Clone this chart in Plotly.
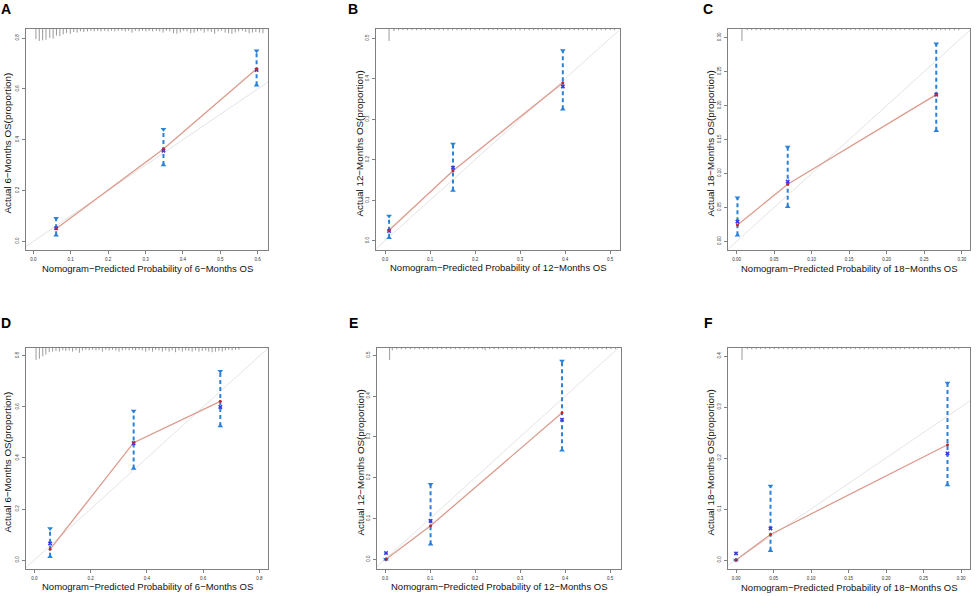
import plotly.graph_objects as go

W, H = 976, 596

letters = ["A", "B", "C", "D", "E", "F"]
months = ["6", "12", "18", "6", "12", "18"]

# nomogram-predicted probability per group
pred = [
    [0.061, 0.348, 0.597],
    [0.009, 0.151, 0.395],
    [0.001, 0.068, 0.266],
    [0.056, 0.353, 0.661],
    [0.002, 0.101, 0.393],
    [0.000, 0.046, 0.282],
]
# observed (Kaplan-Meier) proportion
obs = [
    [0.050, 0.364, 0.679],
    [0.026, 0.173, 0.390],
    [0.024, 0.084, 0.216],
    [0.042, 0.460, 0.622],
    [0.000, 0.082, 0.359],
    [0.000, 0.050, 0.226],
]
# bias-corrected estimate
corr = [
    [0.052, 0.357, 0.675],
    [0.024, 0.180, 0.381],
    [0.029, 0.088, 0.216],
    [0.065, 0.458, 0.600],
    [0.015, 0.094, 0.342],
    [0.013, 0.062, 0.209],
]
# 95% CI
ci_lo = [
    [0.024, 0.301, 0.615],
    [0.007, 0.124, 0.325],
    [0.009, 0.051, 0.163],
    [0.013, 0.359, 0.525],
    [0.000, 0.037, 0.267],
    [0.000, 0.018, 0.147],
]
ci_hi = [
    [0.091, 0.441, 0.750],
    [0.061, 0.239, 0.470],
    [0.064, 0.139, 0.291],
    [0.124, 0.584, 0.740],
    [0.000, 0.184, 0.486],
    [0.000, 0.145, 0.347],
]

# distribution of predicted values (spikes along the top), relative heights
spike_x = [
    [0.007, 0.016, 0.025, 0.034, 0.044, 0.053, 0.062, 0.071, 0.080, 0.089, 0.099, 0.108,
     0.117, 0.126, 0.135, 0.145, 0.154, 0.163, 0.172, 0.181, 0.191, 0.200, 0.209, 0.218,
     0.227, 0.237, 0.246, 0.255, 0.264, 0.273, 0.283, 0.292, 0.301, 0.310, 0.319, 0.329,
     0.338, 0.347, 0.356, 0.365, 0.375, 0.384, 0.393, 0.402, 0.411, 0.421, 0.430, 0.439,
     0.448, 0.457, 0.467, 0.476, 0.485, 0.494, 0.503, 0.513, 0.522, 0.531, 0.540, 0.549,
     0.559, 0.568, 0.577, 0.586, 0.595, 0.605, 0.614],
    [0.009, 0.020, 0.030, 0.040, 0.050, 0.060, 0.070, 0.080, 0.090, 0.100, 0.110, 0.120,
     0.130, 0.140, 0.150, 0.160, 0.170, 0.180, 0.190, 0.200, 0.210, 0.220, 0.230, 0.240,
     0.250, 0.260, 0.270, 0.280, 0.290, 0.300, 0.310, 0.320, 0.330, 0.340, 0.350, 0.360,
     0.370, 0.380, 0.390, 0.400, 0.410, 0.420, 0.430, 0.440, 0.450, 0.460, 0.470, 0.480,
     0.490, 0.500, 0.510],
    [0.007, 0.014, 0.020, 0.026, 0.032, 0.038, 0.044, 0.050, 0.056, 0.062, 0.068, 0.074,
     0.080, 0.086, 0.092, 0.098, 0.104, 0.110, 0.116, 0.122, 0.128, 0.134, 0.140, 0.146,
     0.152, 0.158, 0.164, 0.170, 0.176, 0.182, 0.188, 0.194, 0.200, 0.206, 0.212, 0.218,
     0.224, 0.230, 0.236, 0.242, 0.248, 0.254, 0.260, 0.266, 0.272, 0.278, 0.284, 0.290,
     0.296],
    [0.006, 0.018, 0.030, 0.041, 0.053, 0.065, 0.077, 0.089, 0.101, 0.112, 0.124, 0.136,
     0.148, 0.160, 0.171, 0.183, 0.195, 0.207, 0.219, 0.230, 0.242, 0.254, 0.266, 0.278,
     0.290, 0.301, 0.313, 0.325, 0.337, 0.349, 0.360, 0.372, 0.384, 0.396, 0.408, 0.420,
     0.431, 0.443, 0.455, 0.467, 0.479, 0.490, 0.502, 0.514, 0.526, 0.538, 0.549, 0.561,
     0.573, 0.585, 0.597, 0.609, 0.620, 0.632, 0.644, 0.656, 0.668, 0.679, 0.691, 0.703,
     0.715, 0.727],
    [0.010, 0.016, 0.026, 0.036, 0.046, 0.056, 0.066, 0.076, 0.086, 0.096, 0.106, 0.116,
     0.126, 0.136, 0.146, 0.156, 0.166, 0.176, 0.186, 0.196, 0.206, 0.216, 0.222, 0.232,
     0.242, 0.252, 0.262, 0.272, 0.282, 0.292, 0.302, 0.312, 0.322, 0.332, 0.342, 0.352,
     0.362, 0.372, 0.382, 0.392, 0.402, 0.412, 0.422, 0.432, 0.442, 0.452, 0.462, 0.472,
     0.482, 0.492, 0.502, 0.512],
    [0.008, 0.015, 0.021, 0.027, 0.033, 0.039, 0.045, 0.051, 0.057, 0.063, 0.069, 0.075,
     0.081, 0.087, 0.093, 0.099, 0.105, 0.111, 0.117, 0.123, 0.129, 0.135, 0.141, 0.147,
     0.153, 0.159, 0.165, 0.171, 0.177, 0.183, 0.189, 0.195, 0.201, 0.207, 0.213, 0.219,
     0.225, 0.231, 0.237, 0.243, 0.249, 0.255, 0.261, 0.267, 0.273, 0.279, 0.285, 0.291,
     0.297],
]
spike_h = [
    [0.85, 1.0, 0.95, 0.9, 0.75, 0.8, 0.55, 0.6, 0.45, 0.35, 0.4, 0.25, 0.3, 0.2, 0.25, 0.2,
     0.15, 0.2, 0.15, 0.2, 0.15, 0.2, 0.15, 0.2, 0.15, 0.15, 0.2, 0.15, 0.3, 0.15, 0.2, 0.15,
     0.2, 0.15, 0.2, 0.15, 0.2, 0.3, 0.15, 0.2, 0.35, 0.4, 0.3, 0.15, 0.2, 0.35, 0.3, 0.2,
     0.15, 0.3, 0.2, 0.25, 0.4, 0.2, 0.15, 0.3, 0.35, 0.4, 0.3, 0.2, 0.15, 0.25, 0.35, 0.3,
     0.25, 0.3, 0.35],
    [1.0, 0.18, 0.1, 0.1, 0.1, 0.1, 0.1, 0.1, 0.1, 0.1, 0.1, 0.1, 0.1, 0.1, 0.1, 0.1, 0.1,
     0.1, 0.1, 0.1, 0.1, 0.1, 0.1, 0.1, 0.1, 0.1, 0.1, 0.1, 0.1, 0.1, 0.1, 0.1, 0.1, 0.1,
     0.1, 0.1, 0.1, 0.1, 0.1, 0.1, 0.1, 0.1, 0.1, 0.1, 0.1, 0.1, 0.1, 0.1, 0.1, 0.1, 0.1],
    [1.0, 0.1, 0.1, 0.1, 0.1, 0.1, 0.1, 0.1, 0.1, 0.1, 0.1, 0.1, 0.1, 0.1, 0.1, 0.1, 0.1,
     0.1, 0.1, 0.1, 0.1, 0.1, 0.1, 0.1, 0.1, 0.1, 0.1, 0.1, 0.1, 0.1, 0.1, 0.1, 0.1, 0.1,
     0.1, 0.1, 0.1, 0.1, 0.1, 0.1, 0.1, 0.1, 0.1, 0.1, 0.1, 0.1, 0.1, 0.1, 0.1],
    [1.0, 0.9, 0.7, 0.55, 0.35, 0.3, 0.25, 0.3, 0.2, 0.25, 0.2, 0.3, 0.2, 0.4, 0.2, 0.15,
     0.2, 0.15, 0.2, 0.15, 0.3, 0.15, 0.2, 0.15, 0.2, 0.3, 0.2, 0.15, 0.2, 0.15, 0.2, 0.15,
     0.2, 0.3, 0.2, 0.3, 0.15, 0.2, 0.3, 0.2, 0.3, 0.2, 0.35, 0.2, 0.3, 0.2, 0.25, 0.3, 0.2,
     0.3, 0.25, 0.2, 0.3, 0.35, 0.3, 0.25, 0.3, 0.2, 0.15, 0.2, 0.15, 0.15],
    [1.0, 0.2, 0.1, 0.1, 0.1, 0.1, 0.1, 0.1, 0.1, 0.1, 0.1, 0.1, 0.1, 0.1, 0.1, 0.1, 0.1,
     0.1, 0.1, 0.1, 0.1, 0.1, 0.2, 0.1, 0.1, 0.1, 0.1, 0.1, 0.1, 0.1, 0.1, 0.1, 0.1, 0.1,
     0.1, 0.1, 0.1, 0.1, 0.1, 0.1, 0.1, 0.1, 0.1, 0.1, 0.1, 0.1, 0.1, 0.1, 0.1, 0.1, 0.1,
     0.1],
    [1.0, 0.1, 0.1, 0.1, 0.1, 0.1, 0.1, 0.1, 0.1, 0.1, 0.1, 0.1, 0.1, 0.1, 0.1, 0.1, 0.1,
     0.1, 0.1, 0.1, 0.1, 0.1, 0.1, 0.1, 0.1, 0.1, 0.1, 0.1, 0.1, 0.1, 0.1, 0.1, 0.1, 0.1,
     0.1, 0.1, 0.1, 0.1, 0.1, 0.1, 0.1, 0.1, 0.1, 0.1, 0.1, 0.1, 0.1, 0.1, 0.1],
]

# axis ranges and ticks
x_range = [[-0.0195, 0.6275], [-0.020, 0.522], [-0.0116, 0.311],
           [-0.0296, 0.8305], [-0.018, 0.524], [-0.0107, 0.312]]
y_range = [[-0.034, 0.836], [-0.023, 0.523], [-0.0128, 0.3127],
           [-0.035, 0.831], [-0.024, 0.518], [-0.0176, 0.4157]]
x_ticks = [[0, 0.1, 0.2, 0.3, 0.4, 0.5, 0.6], [0, 0.1, 0.2, 0.3, 0.4, 0.5],
           [0, 0.05, 0.1, 0.15, 0.2, 0.25, 0.3], [0, 0.2, 0.4, 0.6, 0.8],
           [0, 0.1, 0.2, 0.3, 0.4, 0.5], [0, 0.05, 0.1, 0.15, 0.2, 0.25, 0.3]]
y_ticks = [[0, 0.2, 0.4, 0.6, 0.8], [0, 0.1, 0.2, 0.3, 0.4, 0.5],
           [0, 0.05, 0.1, 0.15, 0.2, 0.25, 0.3], [0, 0.2, 0.4, 0.6, 0.8],
           [0, 0.1, 0.2, 0.3, 0.4, 0.5], [0, 0.1, 0.2, 0.3, 0.4]]
tick_fmt = [".1f", ".1f", ".2f", ".1f", ".1f", ".2f"]
ytick_fmt = [".1f", ".1f", ".2f", ".1f", ".1f", ".1f"]

# panel boxes in pixels: left, right, top, bottom
boxes = [(26, 268, 29, 250), (376, 620, 29, 250), (728, 970, 29, 250),
         (26, 268, 348, 569), (377, 621, 348, 569), (728, 970, 348, 569)]
# axis-title and panel-letter anchor points in pixels
xtitle_y = [269, 267, 269, 586, 586, 587]
ytitle_x = [7, 359, 710, 7, 360, 710]
letter_xy = [(6, 9), (353, 9), (708, 9), (6, 323), (353, 323), (708, 323)]

BLUE = "#2b80d8"
RED_LINE = "#dc9a8c"
FONT = "Liberation Sans, Arial, sans-serif"


def px(x):
    return x / W


def py(y):
    return 1 - y / H


fig = go.Figure()
annotations = []

for i in range(6):
    n = "" if i == 0 else str(i + 1)
    xa, ya = "x" + n, "y" + n
    l, r, t, b = boxes[i]
    x0, x1 = x_range[i]
    y0, y1 = y_range[i]

    # ideal line
    d0, d1 = min(x0, y0), max(x1, y1)
    fig.add_trace(go.Scatter(x=[d0, d1], y=[d0, d1], mode="lines",
                             line=dict(color="#e4e4e4", width=1),
                             xaxis=xa, yaxis=ya, showlegend=False, hoverinfo="skip"))

    # spikes at top
    L = 0.054 * (y1 - y0)
    sx, sy = [], []
    for xv, hv in zip(spike_x[i], spike_h[i]):
        sx += [xv, xv, None]
        sy += [y1, y1 - hv * L, None]
    fig.add_trace(go.Scatter(x=sx, y=sy, mode="lines",
                             line=dict(color="#9a9a9a", width=1),
                             xaxis=xa, yaxis=ya, showlegend=False, hoverinfo="skip"))

    # observed line
    fig.add_trace(go.Scatter(x=pred[i], y=obs[i], mode="lines",
                             line=dict(color=RED_LINE, width=1.3),
                             xaxis=xa, yaxis=ya, showlegend=False))

    # error bars
    ex, ey = [], []
    for p, lo, hi in zip(pred[i], ci_lo[i], ci_hi[i]):
        ex += [p, p, None]
        ey += [lo, hi, None]
    fig.add_trace(go.Scatter(x=ex, y=ey, mode="lines",
                             line=dict(color=BLUE, width=2, dash="4px,3px"),
                             xaxis=xa, yaxis=ya, showlegend=False, hoverinfo="skip"))
    fig.add_trace(go.Scatter(x=pred[i], y=ci_hi[i], mode="markers",
                             marker=dict(symbol="triangle-down", size=5, color=BLUE),
                             xaxis=xa, yaxis=ya, showlegend=False))
    fig.add_trace(go.Scatter(x=pred[i], y=ci_lo[i], mode="markers",
                             marker=dict(symbol="triangle-up", size=5, color=BLUE),
                             xaxis=xa, yaxis=ya, showlegend=False))

    # bias-corrected and observed points
    fig.add_trace(go.Scatter(x=pred[i], y=corr[i], mode="markers",
                             marker=dict(symbol="x", size=4, color="#3a3ae0"),
                             xaxis=xa, yaxis=ya, showlegend=False))
    fig.add_trace(go.Scatter(x=pred[i], y=obs[i], mode="markers",
                             marker=dict(symbol="circle", size=3, color="#c0262e"),
                             xaxis=xa, yaxis=ya, showlegend=False))

    axis_common = dict(showgrid=False, zeroline=False, showline=True, mirror=True,
                       linecolor="#808080", linewidth=1, ticks="outside", ticklen=3,
                       tickcolor="#808080", tickfont=dict(size=4.5, color="#333", family=FONT))
    fig.update_layout(**{
        "xaxis" + n: dict(axis_common, domain=[px(l), px(r)], range=[x0, x1],
                          anchor=ya, tickvals=x_ticks[i], tickformat=tick_fmt[i],
                          ticklabelstandoff=2),
        "yaxis" + n: dict(axis_common, domain=[py(b), py(t)], range=[y0, y1],
                          anchor=xa, tickvals=y_ticks[i], tickformat=ytick_fmt[i],
                          tickangle=-90, ticklabelstandoff=1),
    })

    cx = (l + r) / 2
    cy = (t + b) / 2
    annotations.append(dict(
        text="Nomogram\u2212Predicted Probability of " + months[i] + "\u2212Months OS",
        x=px(cx), y=py(xtitle_y[i]), xref="paper", yref="paper", showarrow=False,
        xanchor="center", yanchor="middle",
        font=dict(size=9.5, color="#111", family=FONT)))
    annotations.append(dict(
        text="Actual " + months[i] + "\u2212Months OS(proportion)",
        x=px(ytitle_x[i]), y=py(cy + 4), xref="paper", yref="paper", showarrow=False,
        xanchor="center", yanchor="middle",
        textangle=-90, font=dict(size=9.8, color="#111", family=FONT)))
    annotations.append(dict(
        text="<b>" + letters[i] + "</b>",
        x=px(letter_xy[i][0]), y=py(letter_xy[i][1]), xref="paper", yref="paper",
        xanchor="center", yanchor="middle",
        showarrow=False, font=dict(size=14, color="#000", family=FONT)))

fig.update_layout(width=W, height=H, margin=dict(l=0, r=0, t=0, b=0),
                  paper_bgcolor="white", plot_bgcolor="white",
                  annotations=annotations, showlegend=False)

# the page body has a default margin; drop it so the figure fills the window
fig.write_html("out.html", config={"displayModeBar": False},
               post_script="document.body.style.margin = '0';")
